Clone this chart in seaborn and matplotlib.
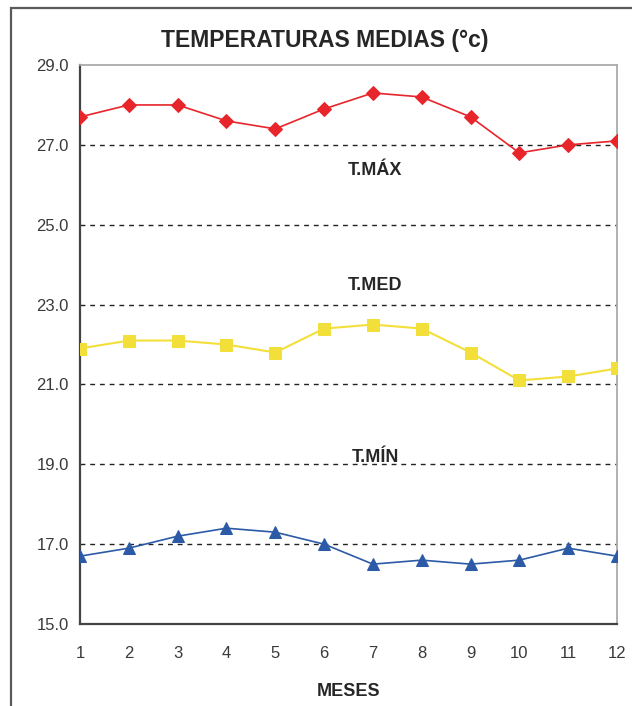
import matplotlib
matplotlib.use("Agg")
import matplotlib.pyplot as plt
import seaborn as sns
import pandas as pd
from matplotlib.patches import Rectangle

months = [1, 2, 3, 4, 5, 6, 7, 8, 9, 10, 11, 12]
t_max = [27.7, 28.0, 28.0, 27.6, 27.4, 27.9, 28.3, 28.2, 27.7, 26.8, 27.0, 27.1]
t_med = [21.9, 22.1, 22.1, 22.0, 21.8, 22.4, 22.5, 22.4, 21.8, 21.1, 21.2, 21.4]
t_min = [16.7, 16.9, 17.2, 17.4, 17.3, 17.0, 16.5, 16.6, 16.5, 16.6, 16.9, 16.7]
y_ticks = [15.0, 17.0, 19.0, 21.0, 23.0, 25.0, 27.0, 29.0]
title = "TEMPERATURAS MEDIAS (°c)"
xlabel = "MESES"
series_labels = ["T.MÁX", "T.MED", "T.MÍN"]

sns.set_style("white")
plt.rcParams['font.family'] = ['Liberation Sans', 'DejaVu Sans']

fig = plt.figure(figsize=(6.32, 7.06), dpi=100)
ax = fig.add_axes([0.1266, 0.1161, 0.8497, 0.7918])

# outer frame
fig.patches.append(Rectangle((0.0174, -0.05), 1.2, 0.9887 + 0.05, transform=fig.transFigure,
                             fill=False, edgecolor="#5a5a5a", linewidth=1.6, zorder=0))

for yv in y_ticks[1:-1]:
    ax.axhline(yv, color="#222222", linestyle=(0, (3.5, 3.5)), linewidth=1.0, zorder=1)

df = pd.DataFrame({"mes": months, "max": t_max, "med": t_med, "min": t_min})
sns.lineplot(data=df, x="mes", y="max", ax=ax, color="#e8252b", marker="D", markersize=7,
             markeredgecolor="#e8252b", linewidth=1.2, zorder=3)
sns.lineplot(data=df, x="mes", y="med", ax=ax, color="#f3df3a", marker="s", markersize=8.5,
             markeredgecolor="#f3df3a", linewidth=1.5, zorder=3)
sns.lineplot(data=df, x="mes", y="min", ax=ax, color="#2c5aa6", marker="^", markersize=8.5,
             markeredgecolor="#2c5aa6", linewidth=1.2, zorder=3)

ax.set_xlim(1, 12)
ax.set_ylim(15, 29)
ax.set_xticks(months)
ax.set_yticks(y_ticks)
ax.set_yticklabels([f"{v:.1f}" for v in y_ticks])
ax.tick_params(axis="both", labelsize=12, labelcolor="#3a3a3a", colors="#3a3a3a")
ax.tick_params(axis="y", direction="out", length=5, width=1.2, pad=3)
ax.tick_params(axis="x", direction="inout", length=9, width=1.2, pad=11)
for s in ["left", "bottom"]:
    ax.spines[s].set_color("#444444")
    ax.spines[s].set_linewidth(1.6)
for s in ["top", "right"]:
    ax.spines[s].set_color("#aaaaaa")
    ax.spines[s].set_linewidth(1.3)

ax.set_xlabel(xlabel, fontsize=13, fontweight="bold", labelpad=16)
ax.set_ylabel("")

ax.text(7.05, 26.37, series_labels[0], ha="center", va="center", fontsize=13, fontweight="bold")
ax.text(7.05, 23.49, series_labels[1], ha="center", va="center", fontsize=13, fontweight="bold")
ax.text(7.05, 19.18, series_labels[2], ha="center", va="center", fontsize=13, fontweight="bold")

fig.text(0.514, 0.943, title, ha="center", va="center", fontsize=16.5, fontweight="bold")

fig.savefig("out.png", dpi=100)
